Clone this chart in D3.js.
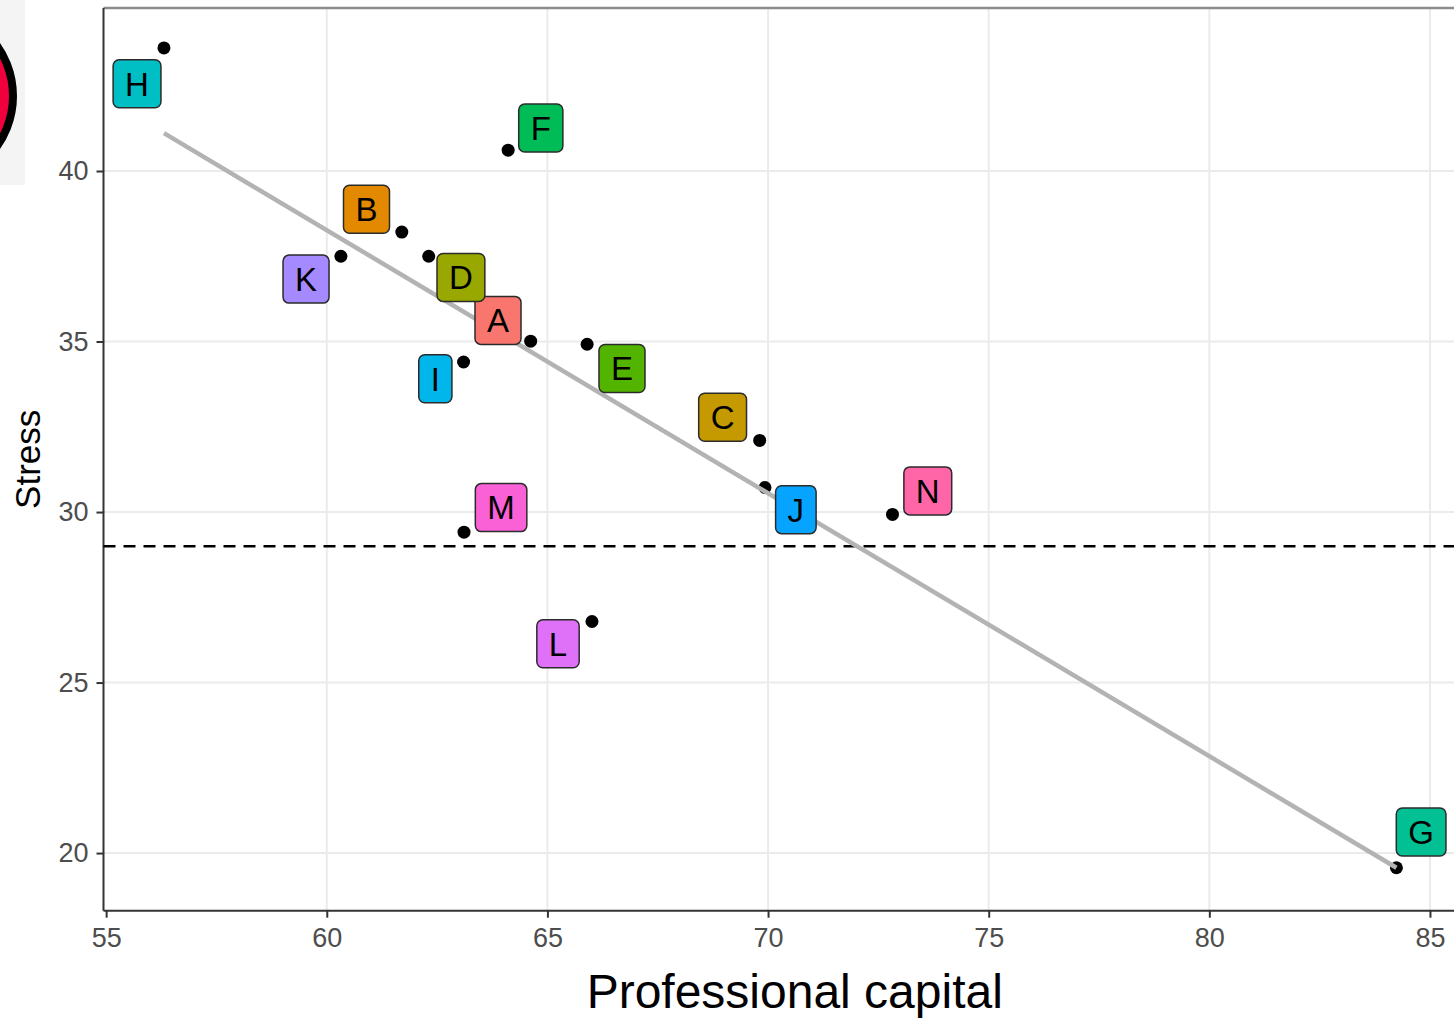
<!DOCTYPE html>
<html>
<head>
<meta charset="utf-8">
<script src="https://cdn.jsdelivr.net/npm/d3@7"></script>
<style>
  html, body { margin: 0; padding: 0; background: #ffffff; }
  svg { display: block; }
</style>
</head>
<body>
<svg id="chart" width="1454" height="1018"></svg>
<script>
// ---- data ----
const categories = ["A","B","C","D","E","F","G","H","I","J","K","L","M","N"];
const capital    = [64.62, 61.70, 69.81, 62.31, 65.90, 64.11, 84.24, 56.31, 63.10, 69.93, 60.32, 66.01, 63.11, 72.82];
const stress     = [35.01, 38.21, 32.10, 37.50, 34.92, 40.61, 19.57, 43.61, 34.40, 30.72, 37.50, 26.79, 29.41, 29.93];
// label (repelled) positions in data units
const labelCapital = [63.88, 60.90, 68.97, 63.04, 66.69, 64.85, 84.80, 55.70, 62.46, 70.63, 59.53, 65.24, 63.95, 73.62];
const labelStress  = [35.62, 38.88, 32.78, 36.88, 34.21, 41.26, 20.62, 42.56, 33.91, 30.07, 36.83, 26.14, 30.13, 30.62];
const colors = ["#F8766D","#E38900","#C49A00","#99A800","#53B400","#00BC56","#00C094",
                "#00BFC4","#00B6EB","#06A4FF","#A58AFF","#DF70F8","#FB61D7","#FF66A8"];
const trendCapital = [56.31, 84.24];
const trendStress  = [41.11, 19.57];
const threshold = 29;
const xTicks = [55, 60, 65, 70, 75, 80, 85];
const yTicks = [20, 25, 30, 35, 40];
const xTitle = "Professional capital";
const yTitle = "Stress";

// ---- layout ----
const svg = d3.select("#chart");
const pL = 103.5, pR = 1486, pT = 8, pB = 910.7;
const x = d3.scaleLinear().domain([54.94, 86.27]).range([pL, pR]);
const y = d3.scaleLinear().domain([18.31, 44.78]).range([pB, pT]);
const font = "'Liberation Sans', Arial, Helvetica, sans-serif";

// decorative logo at top-left
svg.append("rect").attr("x", 0).attr("y", 0).attr("width", 25).attr("height", 185).attr("fill", "#f4f4f4");
svg.append("circle").attr("cx", -74).attr("cy", 96).attr("r", 87)
  .attr("fill", "#F0003C").attr("stroke", "#000").attr("stroke-width", 8);

// grid
const grid = svg.append("g");
grid.selectAll("line.vx").data(xTicks.filter(d => d > 55)).enter().append("line")
  .attr("x1", d => x(d)).attr("x2", d => x(d)).attr("y1", pT).attr("y2", pB)
  .attr("stroke", "#ebebeb").attr("stroke-width", 2);
grid.selectAll("line.hy").data(yTicks).enter().append("line")
  .attr("x1", pL).attr("x2", pR).attr("y1", d => y(d)).attr("y2", d => y(d))
  .attr("stroke", "#ebebeb").attr("stroke-width", 2);

// top border
svg.append("line").attr("x1", pL).attr("x2", pR).attr("y1", pT).attr("y2", pT)
  .attr("stroke", "#8c8c8c").attr("stroke-width", 2.5);

// axes
const xAxis = d3.axisBottom(x).tickValues(xTicks).tickSize(7).tickPadding(10).tickFormat(d3.format("d"));
const yAxis = d3.axisLeft(y).tickValues(yTicks).tickSize(7).tickPadding(8).tickFormat(d3.format("d"));
const gx = svg.append("g").attr("transform", `translate(0,${pB})`).call(xAxis);
const gy = svg.append("g").attr("transform", `translate(${pL},0)`).call(yAxis);
[gx, gy].forEach(g => {
  g.select(".domain").attr("stroke", "#333").attr("stroke-width", 2);
  g.selectAll(".tick line").attr("stroke", "#333").attr("stroke-width", 2);
  g.selectAll(".tick text").attr("fill", "#4d4d4d").style("font-family", font).style("font-size", "27px");
});
gx.select(".domain").attr("d", `M${pL},0H${pR}`);
gy.select(".domain").attr("d", `M0,${pT}V${pB}`);

// dashed threshold
svg.append("line").attr("x1", pL).attr("x2", pR)
  .attr("y1", y(threshold)).attr("y2", y(threshold))
  .attr("stroke", "#000").attr("stroke-width", 2.5).attr("stroke-dasharray", "12,8");

// points
const pts = categories.map((c, i) => ({c, x: capital[i], y: stress[i], lx: labelCapital[i], ly: labelStress[i], col: colors[i]}));
svg.append("g").selectAll("circle").data(pts).enter().append("circle")
  .attr("cx", d => x(d.x)).attr("cy", d => y(d.y)).attr("r", 6.5).attr("fill", "#000");

// trend line
svg.append("line")
  .attr("x1", x(trendCapital[0])).attr("y1", y(trendStress[0]))
  .attr("x2", x(trendCapital[1])).attr("y2", y(trendStress[1]))
  .attr("stroke", "#b3b3b3").attr("stroke-width", 4.5);

// labels
const lg = svg.append("g");
pts.forEach(d => {
  const g = lg.append("g").attr("transform", `translate(${x(d.lx)},${y(d.ly)})`);
  const t = g.append("text").text(d.c)
    .attr("text-anchor", "middle").attr("dy", "0.36em")
    .style("font-family", font).style("font-size", "33px").attr("fill", "#000");
  const w = t.node().getComputedTextLength() + 24;
  const h = 48;
  g.insert("rect", "text").attr("x", -w / 2).attr("y", -h / 2).attr("width", w).attr("height", h)
    .attr("rx", 6).attr("ry", 6).attr("fill", d.col).attr("stroke", "#2b2b2b").attr("stroke-width", 1.5);
});

// titles
svg.append("text").text(xTitle)
  .attr("x", (pL + pR) / 2).attr("y", 1008).attr("text-anchor", "middle")
  .style("font-family", font).style("font-size", "48px").attr("fill", "#000");
svg.append("text").text(yTitle)
  .attr("transform", `translate(40,${(pT + pB) / 2}) rotate(-90)`).attr("text-anchor", "middle")
  .style("font-family", font).style("font-size", "35px").attr("fill", "#000");
</script>
</body>
</html>
